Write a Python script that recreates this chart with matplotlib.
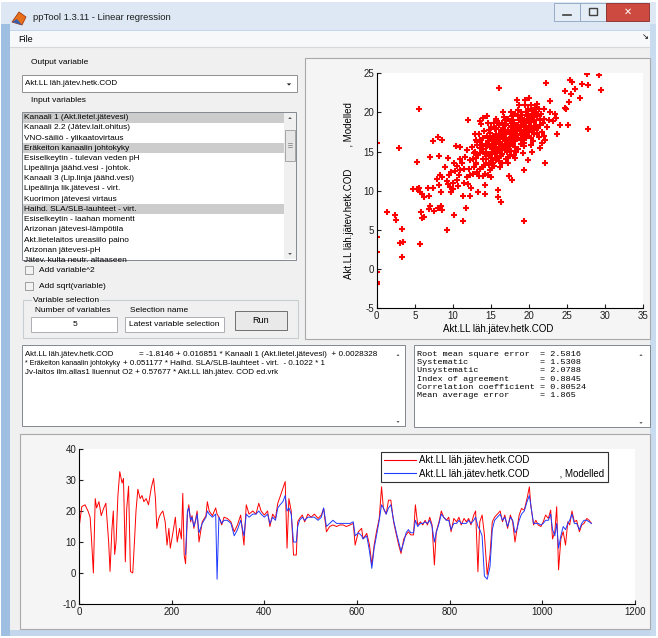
import numpy as np
import matplotlib
matplotlib.use("Agg")
import matplotlib.pyplot as plt
from matplotlib.patches import Rectangle, Polygon
from matplotlib.lines import Line2D

plt.rcParams["axes.unicode_minus"] = False

W, H = 658, 638
UI = "Liberation Sans"
MONO = "Liberation Mono"

# ---------------- data ----------------
output_variable = "Akt.LL läh.jätev.hetk.COD"
input_vars = [
    "Kanaali 1 (Akt.lietel.jätevesi)",
    "Kanaali 2.2 (Jätev.lait.ohitus)",
    "VNO-säiliö - ylikaatovirtaus",
    "Eräkeiton kanaalin johtokyky",
    "Esiselkeytin - tulevan veden pH",
    "Lipeälinja jäähd.vesi - johtok.",
    "Kanaali 3 (Lip.linja jäähd.vesi)",
    "Lipeälinja lik.jätevesi - virt.",
    "Kuorimon jätevesi virtaus",
    "Haihd. SLA/SLB-lauhteet - virt.",
    "Esiselkeytin - laahan momentt",
    "Arizonan jätevesi-lämpötila",
    "Akt.lietelaitos ureasiilo paino",
    "Arizonan jätevesi-pH",
    "Jätev. kulta neutr. altaaseen",
]
selected_rows = [0, 3, 9]

equation_lines = [
    ("Akt.LL läh.jätev.hetk.COD",
     "= -1.8146 + 0.016851 * Kanaali 1 (Akt.lietel.jätevesi)  + 0.0028328"),
    ("* Eräkeiton kanaalin johtokyky",
     "+ 0.051177 * Haihd. SLA/SLB-lauhteet - virt.  - 0.1022 * 1"),
    ("Jv-laitos ilm.allas1 liuennut O2 + 0.57677 * Akt.LL läh.jätev. COD ed.vrk", ""),
]

stat_names = ["Root mean square error", "Systematic", "Unsystematic",
              "Index of agreement", "Correlation coefficient", "Mean average error"]
stat_values = ["2.5816", "1.5308", "2.0788", "0.8845", "0.80524", "1.865"]

# time series (sample index, measured COD)
t = [0, 6, 13, 20, 24, 27, 31, 35, 38, 43, 48, 53, 58, 64, 67, 71, 74, 77, 80, 84,
     88, 93, 96, 100, 103, 107, 111, 116, 120, 123, 127, 132, 136, 140, 145, 150, 156,
     161, 165, 168, 172, 176, 181, 186, 190, 194, 197, 203, 208, 212, 217, 221, 224, 227,
     230, 234, 237, 241, 244, 248, 252, 255, 259, 266, 274, 277, 281, 288, 295, 298, 302,
     308, 313, 320, 328, 335, 342, 349, 356, 361, 367, 375, 382, 388, 393, 400, 407, 412,
     418, 424, 429, 434, 440, 445, 449, 453, 458, 463, 469, 472, 476, 482, 487, 494, 501,
     508, 516, 523, 528, 534, 541, 548, 556, 563, 570, 577, 585, 592, 596, 603, 610, 613,
     621, 627, 632, 637, 642, 648, 653, 657, 663, 668, 673, 679, 685, 690, 695, 701, 706,
     711, 716, 722, 726, 731, 737, 742, 747, 752, 757, 762, 767, 771, 777, 782, 787, 793,
     798, 803, 809, 815, 820, 825, 831, 836, 841, 846, 852, 856, 861, 865, 870, 875, 881,
     887, 892, 897, 903, 909, 914, 919, 925, 931, 936, 941, 945, 950, 955, 961, 967, 972,
     975, 981, 986, 991, 997, 1002, 1007, 1013, 1018, 1022, 1027, 1031, 1035, 1040, 1045,
     1050, 1055, 1059, 1064, 1069, 1074, 1080, 1085, 1090, 1096, 1101, 1106]
observed = [14.4, 21.4, 22, 19.8, 18, 11, 0, 24, 21, 23, 18.5, 20.8, 22.5, 10, 0.5, 14,
            20, 6, 10, 25, 32.7, 29, 30.5, 3.6, 20.8, 28, 0.5, 0, 11, 20, 27, 24, 25, 23,
            24, 22, 27.5, 30.5, 24, 14.4, 17.6, 19, 20, 16.5, 9, 14.4, 8, 13.3, 18, 10,
            14.4, 11, 25.7, 5.8,
            3, 19, 22, 16.5, 18.5, 14.4, 17.6, 20, 10, 16.5, 18.5, 23, 20, 18.5, 21, 19,
            18, 15.5, 18, 17.6, 16.5, 13.3, 15.5, 18.7, 9, 22, 19, 20, 19, 22.5, 20, 18.7,
            20, 15, 19, 17.6, 22.5, 24.6, 27.3, 29.5, 8, 24, 20, 5.8, 5.8, 16.5, 17.6,
            18.7, 16.5, 19, 18, 19, 17.6, 18.7, 20.8, 13.3, 15, 15.5, 15, 15.5, 15.5, 15,
            15.5, 16, 9, 13.3, 14.4, 11, 12.8, 9, 2.6, 9, 13.3, 17.6, 27.8, 20.8, 19, 23.5,
            23.5, 16.5, 12.3, 9, 6.3, 11, 12.3, 13.3, 12.3, 12.3, 22, 15.5, 16.5, 15.5, 17,
            15.5, 18, 15.5, 2.6, 13.3, 16.5, 20, 18, 17, 18, 13.3, 17.6, 16.5, 18, 15.5,
            17.6, 16.5, 17.6, 15.5, 18.7, 20, 0.4, 16.5, 18.7, 12.3, -0.6, 5.8, 16.5, 18,
            19, 20, 16.5, 18.7, 14.4, 18.7, 16.5, 10, 13.9, 18.7, 20.8, 20.3, 24, 27.8, 22,
            15.5, 17, 15.5, 15, 16.5, 18.7, 17.6, 20.3, 11, 13.3, 21.4, 1, 11, 13.3, 9,
            16.5, 15.5, 20, 16.5, 17, 13.3, 15.5, 16, 17.6, 17, 16]
model_start = 230
modelled = [6, 20, 21, 17, 18, 15, 17, 19, 13, 16, 18, 20, 19, 18, 19, -2, 18, 16, 17,
            17, 16, 12, 14, 17, 12, 19, 18, 19, 19, 20, 19, 18, 19, 16, 18, 17, 21, 22, 23,
            25, 20, 21, 19, 10, 10, 15, 17, 18, 17, 18, 18, 18, 17, 18, 21, 15, 16, 17, 16,
            16, 16, 16, 16, 16.5, 12, 13, 12, 11, 12, 7, 1.5, 8, 12, 17, 22, 21, 19, 21, 22,
            17, 13, 10, 7, 10, 13, 14, 13, 13, 17, 15, 16, 16, 16.5, 16, 17, 15, 10, 13, 16,
            19, 18, 17, 17, 14, 16, 16, 17, 16, 16, 16, 17, 16, 17, 18, 15, 14, 12, -1, -2,
            2, 14, 17, 18, 19, 17, 18, 15, 18, 17, 13, 14, 17, 19, 20, 23, 25, 22, 16, 16,
            16, 15.5, 16, 17, 17, 19, 14, 12, 16, 8, 12, 15, 14, 16, 17, 19, 16, 16, 14, 16,
            17, 17, 16.5, 16]

# scatter: (measured, modelled)
scatter_low = [(0, 16.1), (0, 4.1), (0, 2.2), (0, -0.4), (0, -1.7), (0, -1.9), (0.1, -1.8),
               (1.3, 7.3), (2.4, 6.9), (2.5, 6.3), (2.9, 15.5), (3.0, 3.4), (3.3, 5.1),
               (3.5, 3.5), (3.3, 1.6), (5.7, 3.2), (5.6, 20.5), (5.3, 13.7), (4.7, 10.2),
               (5.3, 10.2), (5.5, 10.3), (5.7, 9.9), (6.0, 9.6), (6.2, 9.2), (5.8, 7.3),
               (6.0, 6.5), (6.2, 6.7), (6.8, 10.3), (6.9, 9.4), (7.0, 8.0), (6.9, 7.7),
               (7.5, 7.4), (7.4, 10.3), (7.0, 14.3), (7.4, 16.3), (8.0, 16.9), (8.6, 16.5),
               (8.2, 14.5), (8.3, 12.0), (7.9, 11.5), (8.6, 11.8), (8.2, 10.8), (8.5, 9.8),
               (8.5, 8.0), (8.6, 7.6), (8.0, 7.8), (9.2, 5.0)]
scatter_mid = [(9.0, 13.0), (9.3, 14.2), (9.5, 12.0), (9.6, 10.5), (9.8, 9.8), (10.0, 11.0),
               (10.3, 12.5), (10.5, 13.2), (10.8, 12.0), (11.0, 14.0), (10.4, 15.7),
               (10.9, 15.6), (11.2, 13.5), (11.5, 12.8), (11.5, 11.0), (11.8, 11.7),
               (12.1, 12.8), (12.0, 10.9), (12.4, 10.4), (12.0, 19.1), (10.2, 6.9),
               (11.3, 6.2), (11.7, 7.8), (11.3, 9.4), (12.2, 9.3), (13.3, 9.8), (14.2, 9.6),
               (14.2, 10.7), (15.9, 10.1), (15.9, 9.2), (16.3, 8.6), (19.4, 6.1), (16.0, 23.1),
               (19.4, 12.7), (22.1, 13.6), (17.8, 11.4), (17.4, 11.9), (9.2, 11.3),
               (9.8, 12.4), (10.1, 13.6), (10.6, 11.4), (11.0, 12.6), (11.6, 14.3),
               (12.3, 13.9), (12.7, 12.2), (12.8, 14.8), (13.1, 13.4), (10.0, 10.2),
               (9.4, 10.9), (10.7, 10.6), (11.9, 15.2), (13.4, 11.9), (12.9, 17.3),
               (13.6, 18.9), (13.2, 16.2), (12.5, 15.6)]
scatter_core = [(13.0, 13.5), (13.1, 14.2), (12.9, 15.0), (13.2, 15.8), (13.5, 16.5),
                (13.4, 17.2), (13.6, 12.8), (13.5, 14.8), (13.8, 16.0), (13.7, 18.5),
                (13.9, 19.3), (13.8, 15.4), (13.9, 13.0), (14.2, 12.2), (14.1, 13.3),
                (14.3, 14.0), (14.2, 14.7), (14.0, 15.3), (14.3, 15.9), (14.6, 16.4),
                (14.5, 17.0), (14.7, 17.8), (14.6, 18.6), (14.5, 19.5), (14.7, 14.4),
                (14.9, 15.6), (15.0, 16.8), (14.9, 12.6), (15.0, 13.8), (15.2, 12.9),
                (15.3, 13.6), (15.1, 14.2), (15.2, 14.9), (15.3, 15.4), (15.1, 15.8),
                (15.5, 16.2), (15.4, 16.7), (15.6, 17.3), (15.5, 17.9), (15.4, 18.6),
                (15.6, 19.2), (15.8, 14.5), (15.9, 15.1), (15.7, 16.0), (15.8, 16.5),
                (15.9, 17.0), (15.7, 13.9), (16.2, 13.1), (16.1, 13.8), (16.3, 14.4),
                (16.2, 14.9), (16.0, 15.4), (16.3, 15.8), (16.1, 16.2), (16.6, 16.6),
                (16.5, 17.0), (16.7, 17.5), (16.6, 18.0), (16.5, 18.7), (16.7, 19.4),
                (16.6, 20.0), (16.9, 15.2), (17.0, 16.0), (16.9, 16.8), (16.8, 17.7),
                (17.0, 14.1), (17.2, 13.6), (17.3, 14.3), (17.1, 14.9), (17.2, 15.5),
                (17.3, 16.0), (17.2, 16.4), (17.6, 16.9), (17.5, 17.3), (17.7, 17.8),
                (17.6, 18.3), (17.5, 18.9), (17.7, 19.5), (17.6, 20.1), (17.9, 15.8),
                (18.0, 16.6), (17.9, 17.5), (17.8, 18.1), (18.0, 14.6), (18.2, 14.2),
                (18.3, 14.9), (18.1, 15.6), (18.2, 16.3), (18.3, 16.9), (18.1, 17.4),
                (18.6, 17.9), (18.5, 18.4), (18.7, 19.0), (18.6, 19.6), (18.5, 20.3),
                (18.7, 21.0), (18.9, 16.0), (19.0, 17.1), (18.9, 18.2), (18.8, 19.3),
                (19.2, 14.8), (19.3, 15.7), (19.1, 16.5), (19.2, 17.2), (19.3, 17.8),
                (19.6, 18.3), (19.5, 18.9), (19.7, 19.5), (19.6, 20.1), (19.5, 20.9),
                (19.9, 17.5), (20.0, 18.6), (19.9, 19.8), (19.8, 13.9), (20.3, 15.9),
                (20.2, 16.8), (20.4, 17.6), (20.3, 18.3), (20.7, 19.0), (20.6, 19.7),
                (20.8, 20.5), (20.7, 17.2), (20.6, 18.8), (20.9, 20.0), (21.3, 16.9),
                (21.2, 18.0), (21.4, 19.2), (21.3, 20.4), (21.7, 17.5), (21.8, 18.7)]
scatter_core2 = [(13.3, 14.6), (13.6, 15.5), (13.9, 14.1), (14.0, 16.7), (14.1, 17.6),
                 (14.4, 13.6), (14.4, 15.0), (14.5, 15.7), (14.8, 13.3), (14.8, 16.0),
                 (14.9, 17.4), (15.0, 18.2), (15.0, 14.7), (15.2, 16.5), (15.3, 17.0),
                 (15.4, 13.2), (15.5, 15.0), (15.6, 15.6), (15.7, 18.0), (15.8, 18.9),
                 (15.9, 16.3), (16.0, 14.2), (16.0, 17.3), (16.1, 18.4), (16.2, 16.9),
                 (16.3, 17.8), (16.4, 15.2), (16.4, 16.0), (16.5, 14.7), (16.5, 13.5),
                 (16.7, 15.7), (16.8, 16.3), (16.8, 18.4), (16.9, 19.0), (17.0, 17.2),
                 (17.0, 18.5), (17.1, 15.2), (17.2, 17.7), (17.3, 19.2), (17.4, 16.6),
                 (17.4, 15.7), (17.5, 14.5), (17.6, 15.1), (17.7, 16.2), (17.8, 17.0),
                 (17.9, 19.0), (18.0, 18.6), (18.0, 17.8), (18.1, 19.8), (18.2, 15.1),
                 (18.3, 18.0), (18.4, 16.6), (18.4, 17.2), (18.5, 15.4), (18.6, 16.8),
                 (18.7, 18.2), (18.8, 17.6), (18.9, 20.1), (19.0, 16.5), (19.0, 18.8),
                 (19.1, 19.7), (19.2, 18.4), (19.3, 16.1), (19.4, 19.0), (19.5, 17.2),
                 (19.6, 16.8), (19.7, 17.9), (19.8, 18.9), (19.9, 20.5), (20.0, 17.0),
                 (20.1, 19.3), (20.2, 18.0), (20.4, 20.2), (20.5, 16.4), (20.6, 19.4),
                 (20.9, 18.3), (21.0, 19.6), (21.1, 17.4), (21.5, 18.4), (21.6, 19.8),
                 (22.0, 19.2), (22.3, 18.2), (12.8, 13.0), (13.0, 16.5), (13.2, 12.4),
                 (12.6, 14.1), (12.3, 12.0), (14.0, 11.9), (14.6, 12.0), (15.0, 11.8)]
scatter_high = [(22.2, 23.7), (24.7, 22.8), (25.4, 24.1), (25.7, 23.9), (26.0, 23.0),
                (27.6, 24.9), (27.0, 23.6), (27.7, 23.5), (29.2, 24.8), (29.4, 22.9),
                (26.7, 21.8), (25.2, 21.3), (25.5, 22.4), (27.7, 17.9), (25.1, 18.4),
                (24.7, 20.6), (24.0, 18.4), (23.7, 17.2), (23.6, 19.3), (23.4, 19.8),
                (22.8, 20.1), (22.8, 21.5), (20.0, 21.8), (19.5, 21.6), (18.4, 21.6),
                (21.0, 21.1), (22.0, 17.0), (21.7, 16.1), (22.1, 16.5), (21.5, 15.5),
                (20.4, 15.0), (20.6, 17.7), (21.4, 19.0), (24.9, 20.5), (23.2, 18.9),
                (22.6, 19.0), (21.9, 20.4), (20.8, 20.6), (20.3, 21.0)]


# ---------------- helpers ----------------
fig = plt.figure(figsize=(W / 100, H / 100), dpi=100)
bg = fig.add_axes([0, 0, 1, 1])
bg.set_xlim(0, W)
bg.set_ylim(H, 0)
bg.axis("off")


def box(x0, y0, x1, y1, fc, ec="none", lw=0.8, z=1):
    r = Rectangle((x0, y0), x1 - x0, y1 - y0, facecolor=fc, edgecolor=ec,
                  linewidth=lw, zorder=z)
    bg.add_patch(r)
    return r


def label(x, y, s, size=5.5, family=UI, **kw):
    kw.setdefault("va", "center")
    kw.setdefault("ha", "left")
    return bg.text(x, y, s, fontsize=size, family=family, zorder=5, **kw)


def tri(cx, cy, up, s=2.2, color="#404040"):
    d = -s if up else s
    bg.add_patch(Polygon([(cx - s, cy - d / 2), (cx + s, cy - d / 2), (cx, cy + d / 2)],
                         closed=True, facecolor=color, edgecolor="none", zorder=6))


def px_axes(x0, y0, x1, y1):
    return fig.add_axes([x0 / W, 1 - y1 / H, (x1 - x0) / W, (y1 - y0) / H])


def matlab_axes(ax):
    for s in ("top", "right"):
        ax.spines[s].set_visible(False)
    for s in ("left", "bottom"):
        ax.spines[s].set_linewidth(0.8)
    ax.tick_params(direction="in", length=3, width=0.8, labelsize=7, pad=2,
                   colors="#202020")
    for lab in ax.get_xticklabels() + ax.get_yticklabels():
        lab.set_family(UI)


# ---------------- window chrome ----------------
box(0, 0, W, H, "#ffffff")
box(1, 2, 656, 636, "#c3d6ec")
box(1, 2, 656, 30, "#dde8f4")
box(1, 24, 10, 636, "#9fbfe2")
box(650, 24, 656, 636, "#c9dbef")
box(10, 31, 650, 630, "#f0f0f0")
box(10, 31, 650, 47, "#f7f8fa")
bg.plot([10, 650], [47, 47], color="#d8d8d8", lw=0.8, zorder=2)

# title bar icon + text
bg.add_patch(Polygon([(12, 22), (19, 12), (26, 17), (22, 25)], closed=True,
                     facecolor="#e8701a", edgecolor="#a83a10", lw=0.6, zorder=3))
bg.add_patch(Polygon([(12, 22), (17, 19), (22, 25)], closed=True,
                     facecolor="#3a5fa8", edgecolor="none", zorder=3))
label(33, 18, "ppTool 1.3.11 - Linear regression", size=6.8, color="#1e1e1e")
box(554, 3, 580, 21, "#e4ecf6", ec="#8ba3c1", lw=0.6, z=2)
box(580, 3, 606, 21, "#e4ecf6", ec="#8ba3c1", lw=0.6, z=2)
box(606, 3, 649, 21, "#cc4a3f", ec="#8a2a22", lw=0.6, z=2)
bg.plot([563, 571], [15, 15], color="#404040", lw=1.2, zorder=3)
box(589, 8, 597, 15, "none", ec="#404040", lw=1.0, z=3)
label(627.5, 12, "✕", size=7, family="DejaVu Sans", ha="center", color="white",
      fontweight="bold")

# menu
label(18, 39.5, "File", size=6.5)
label(645, 37, "↘", size=6, family="DejaVu Sans", ha="center")

# ---------------- left controls ----------------
label(31, 62, "Output variable", size=6)
box(22, 75, 297, 92, "white", ec="#8e8f8f", lw=0.7)
label(25, 83.5, output_variable, size=5.9)
tri(289, 84.5, up=False, s=2.2, color="#202020")

label(31, 101, "Input variables", size=6)
lb = box(22, 112, 296, 260, "white", ec="#828790", lw=0.7)
row_h = 10.2
for i, name in enumerate(input_vars):
    y = 112.5 + row_h * (i + 0.5)
    if i in selected_rows:
        box(23, y - row_h / 2, 283.5, y + row_h / 2, "#cccccc", z=2)
    txt = label(24, y, name, size=5.95)
    txt.set_clip_path(lb)
box(284, 113, 296, 259, "#f0f0f0", z=3)
box(285, 130, 295, 161, "#e6e6e6", ec="#9a9a9a", lw=0.6, z=4)
for gy in (143, 145, 147):
    bg.plot([288, 292], [gy, gy], color="#777777", lw=0.5, zorder=5)
tri(290, 118, up=True, s=1.8)
tri(290, 254, up=False, s=1.8)

for cy, s in ((270, "Add variable^2"), (286, "Add sqrt(variable)")):
    box(24.5, cy - 4, 32.5, cy + 4, "#f2f2f2", ec="#8f8f8f", lw=0.6)
    label(39, cy, s, size=6)

# variable selection group
box(23, 300, 298, 338, "none", ec="#c9ced3", lw=0.8)
label(33, 300, "Variable selection", size=6,
      bbox=dict(facecolor="#f0f0f0", edgecolor="none", pad=0.6))
label(35, 310, "Number of variables", size=6)
label(130, 310, "Selection name", size=6)
box(31, 317, 117, 332, "white", ec="#abadb3", lw=0.7)
label(75, 324.5, "5", size=6, ha="center")
box(125, 317, 224, 332, "white", ec="#abadb3", lw=0.7)
label(129, 324.5, "Latest variable selection", size=6)
box(235, 311, 287, 330, "#e9e9e9", ec="#707070", lw=0.7)
label(261, 320.5, "Run", size=6.5, ha="center")

# ---------------- equation + statistics boxes ----------------
box(22, 345, 405, 426, "white", ec="#828790", lw=0.7)
eq_sizes = [(5.6, 5.9, 139), (5.1, 5.8, 123), (5.8, 5.8, 0)]
for i, ((a, b), (sa, sb, xb)) in enumerate(zip(equation_lines, eq_sizes)):
    y = 354 + 9.4 * i
    label(25, y, a, size=sa)
    if b:
        label(xb, y, b, size=sb)
tri(398, 355, up=True, s=1.6)
tri(398, 422, up=False, s=1.6)

box(414, 345, 650, 427, "white", ec="#828790", lw=0.7)
for i, (n, v) in enumerate(zip(stat_names, stat_values)):
    label(417, 354 + 8.35 * i, f"{n:<24s}= {v}", size=6.1, family=MONO)
tri(641, 355, up=True, s=1.6)
tri(641, 423, up=False, s=1.6)

# ---------------- panels ----------------
box(305, 58, 650, 339, "#f5f5f5", ec="#a9a9a9", lw=0.8)
box(20, 434, 650, 629, "#f5f5f5", ec="#a9a9a9", lw=0.8)

# scatter: measured vs modelled
sc = np.array(scatter_low + scatter_mid + scatter_core + scatter_core2 + scatter_high)
ax1 = px_axes(376.7, 73.3, 643.3, 308.3)
ax1.plot(sc[:, 0], sc[:, 1], "+", color="#ff0000", ms=3.8, mew=1.5)
ax1.set_xlim(0, 35)
ax1.set_ylim(-5, 25)
ax1.set_xticks(np.arange(0, 36, 5))
ax1.set_yticks(np.arange(-5, 26, 5))
matlab_axes(ax1)
label(498, 329, output_variable, size=7, ha="center")
label(349, 191, output_variable + "        , Modelled", size=7, ha="center",
      rotation=90)

# time series
tt = np.array(t)
ax2 = px_axes(79, 449, 635, 604)
ax2.plot(tt, observed, color="#ff0000", lw=0.7)
ax2.plot(tt[tt >= model_start], modelled, color="#1f3bff", lw=0.7)
ax2.set_xlim(0, 1200)
ax2.set_ylim(-10, 40)
ax2.set_xticks(np.arange(0, 1201, 200))
ax2.set_yticks(np.arange(-10, 41, 10))
matlab_axes(ax2)
handles = [Line2D([], [], color="#ff0000", lw=0.8), Line2D([], [], color="#1f3bff", lw=0.8)]
leg = ax2.legend(handles, [output_variable, output_variable + "           , Modelled"],
                 loc="upper left", bbox_to_anchor=(0.543, 0.981),
                 prop={"family": UI, "size": 7}, handlelength=3.3, handletextpad=0.3,
                 borderaxespad=0, borderpad=0.35, labelspacing=0.35, frameon=True,
                 fancybox=False, framealpha=1, edgecolor="#303030")
leg.get_frame().set_linewidth(0.8)

fig.savefig("out.png", dpi=100)
